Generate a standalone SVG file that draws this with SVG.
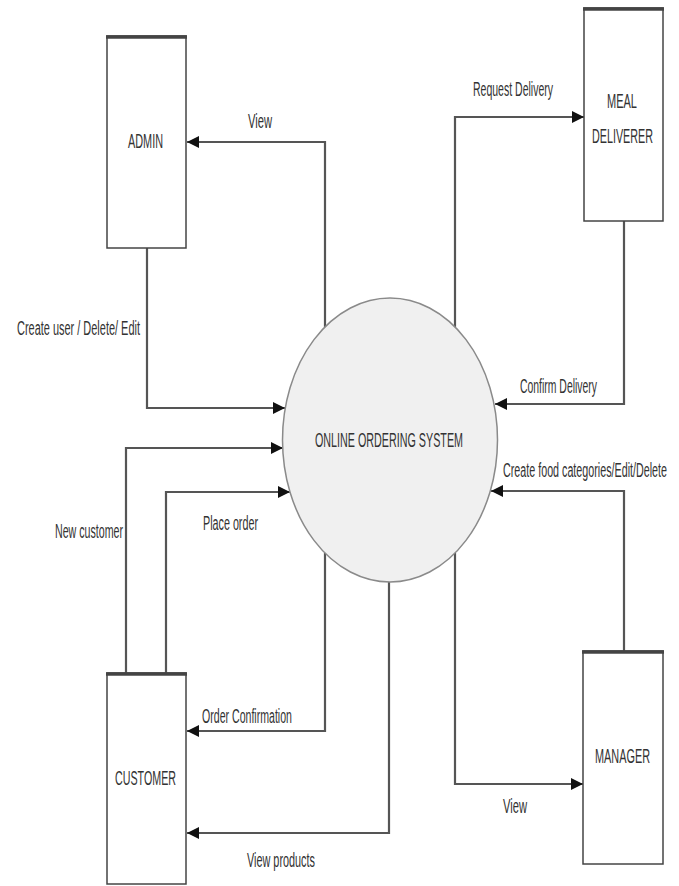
<svg xmlns="http://www.w3.org/2000/svg" width="679" height="886" viewBox="0 0 679 886">
<defs>
<style>
.box{fill:#ffffff;stroke:#444;stroke-width:1.5}
.topline{stroke:#444;stroke-width:3.5}
.proc{fill:#f0f0f0;stroke:#8a8a8a;stroke-width:1.5}
.conn{fill:none;stroke:#555;stroke-width:2.2;marker-end:url(#arr)}
text{font-family:"Liberation Sans",Arial,sans-serif;font-size:20px;fill:#333}
</style>
<marker id="arr" markerUnits="userSpaceOnUse" markerWidth="12" markerHeight="12" viewBox="0 0 12 12" refX="12" refY="6" orient="auto">
<path d="M0,0 L12,6 L0,12 Z" fill="#111"/>
</marker>
</defs>
<rect width="679" height="886" fill="#ffffff"/>
<g id="connectors">
<path class="conn" d="M325,327 V142 H187"/>
<path class="conn" d="M147,248 V408 H285"/>
<path class="conn" d="M455,327 V117 H584"/>
<path class="conn" d="M624,221 V404 H495"/>
<path class="conn" d="M624,651 V491 H491"/>
<path class="conn" d="M455,553 V784 H583"/>
<path class="conn" d="M389,582 V833 H187"/>
<path class="conn" d="M325,553 V731 H187"/>
<path class="conn" d="M126,673 V448 H283"/>
<path class="conn" d="M166,673 V492 H290"/>
</g>
<g id="labels">
<text x="248" y="128" textLength="24" lengthAdjust="spacingAndGlyphs">View</text>
<text x="17" y="335" textLength="123" lengthAdjust="spacingAndGlyphs">Create user / Delete/ Edit</text>
<text x="473" y="96" textLength="80" lengthAdjust="spacingAndGlyphs">Request Delivery</text>
<text x="520" y="393" textLength="77" lengthAdjust="spacingAndGlyphs">Confirm Delivery</text>
<text x="503" y="477" textLength="164" lengthAdjust="spacingAndGlyphs">Create food categories/Edit/Delete</text>
<text x="55" y="538" textLength="68" lengthAdjust="spacingAndGlyphs">New customer</text>
<text x="203" y="530" textLength="55" lengthAdjust="spacingAndGlyphs">Place order</text>
<text x="202" y="723" textLength="90" lengthAdjust="spacingAndGlyphs">Order Confirmation</text>
<text x="247" y="867" textLength="68" lengthAdjust="spacingAndGlyphs">View products</text>
<text x="503" y="813" textLength="24" lengthAdjust="spacingAndGlyphs">View</text>
</g>
<g id="system">
<ellipse class="proc" cx="390" cy="440" rx="107.5" ry="142"/>
<text x="315" y="447" textLength="148" lengthAdjust="spacingAndGlyphs">ONLINE ORDERING SYSTEM</text>
</g>
<g id="admin">
<rect class="box" x="107" y="36" width="79" height="212"/>
<line class="topline" x1="106" y1="37" x2="187" y2="37"/>
<text x="128" y="148" textLength="35" lengthAdjust="spacingAndGlyphs">ADMIN</text>
</g>
<g id="meal-deliverer">
<rect class="box" x="584" y="8" width="79" height="213"/>
<line class="topline" x1="583" y1="9" x2="664" y2="9"/>
<text x="607" y="108" textLength="30" lengthAdjust="spacingAndGlyphs">MEAL</text>
<text x="592" y="143" textLength="61" lengthAdjust="spacingAndGlyphs">DELIVERER</text>
</g>
<g id="customer">
<rect class="box" x="107" y="673" width="79" height="211"/>
<line class="topline" x1="106" y1="674" x2="187" y2="674"/>
<text x="115" y="785" textLength="61" lengthAdjust="spacingAndGlyphs">CUSTOMER</text>
</g>
<g id="manager">
<rect class="box" x="583" y="651" width="80" height="213"/>
<line class="topline" x1="582" y1="652" x2="664" y2="652"/>
<text x="595" y="763" textLength="55" lengthAdjust="spacingAndGlyphs">MANAGER</text>
</g>
</svg>
